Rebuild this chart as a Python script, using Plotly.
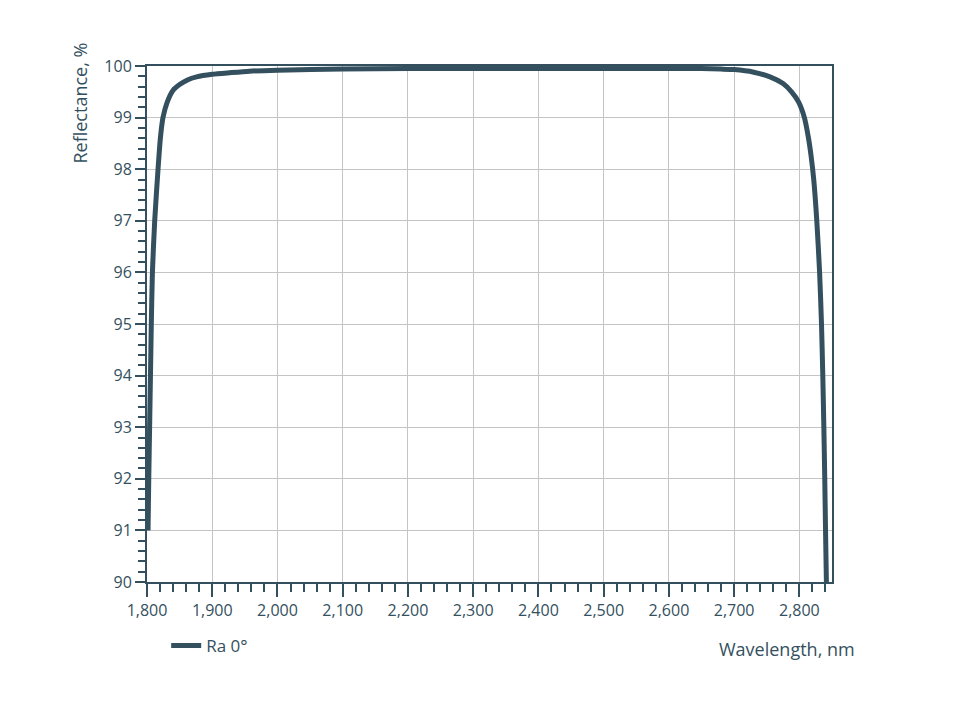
import plotly.graph_objects as go

# Reflectance curve
wavelength_nm = [
    1801.6, 1802.7, 1804.0, 1805.3, 1806.6, 1808.3, 1811.8, 1816.9, 1820.5,
    1824.5, 1831.0, 1840.0, 1850.0, 1862.0, 1876.0, 1900.0, 1927.0, 1957.0,
    2000.0, 2100.0, 2200.0, 2300.0, 2400.0, 2500.0, 2600.0, 2650.0, 2680.0,
    2700.0, 2730.0, 2755.0, 2775.0, 2788.0, 2798.5, 2807.7, 2814.0, 2818.0,
    2822.0, 2826.7, 2831.0, 2833.9, 2835.9, 2837.5, 2838.9, 2840.1, 2841.4,
]
reflectance_pct = [
    91.0, 92.0, 93.0, 94.0, 95.0, 96.0, 97.0, 98.0, 98.6,
    99.0, 99.3, 99.53, 99.64, 99.73, 99.79, 99.84, 99.87, 99.9,
    99.92, 99.94, 99.95, 99.95, 99.95, 99.95, 99.95, 99.95, 99.94,
    99.93, 99.88, 99.79, 99.66, 99.5, 99.31, 99.0, 98.6, 98.25,
    97.8, 97.0, 96.0, 95.0, 94.0, 93.0, 92.0, 91.0, 90.0,
]

x_ticks = [1800, 1900, 2000, 2100, 2200, 2300, 2400, 2500, 2600, 2700, 2800]
x_tick_labels = ["1,800", "1,900", "2,000", "2,100", "2,200", "2,300",
                 "2,400", "2,500", "2,600", "2,700", "2,800"]
y_ticks = [90, 91, 92, 93, 94, 95, 96, 97, 98, 99, 100]

INK = "#34505e"
GRID = "#c4c4c4"
FONT = "Open Sans"

fig = go.Figure()
fig.add_trace(
    go.Scatter(
        x=wavelength_nm,
        y=reflectance_pct,
        mode="lines",
        name="Ra 0°",
        line={"color": INK, "width": 5, "shape": "spline", "smoothing": 0.6},
    )
)

axis_common = {
    "showline": True,
    "linecolor": INK,
    "linewidth": 2,
    "mirror": True,
    "showgrid": True,
    "gridcolor": GRID,
    "gridwidth": 1,
    "zeroline": False,
    "ticks": "outside",
    "tickcolor": INK,
    "tickwidth": 2,
    "tickfont": {"family": FONT, "size": 16, "color": INK},
}

fig.update_xaxes(
    range=[1800, 2850],
    tickvals=x_ticks,
    ticktext=x_tick_labels,
    ticklen=13,
    minor={"dtick": 20, "ticks": "outside", "ticklen": 8, "tickcolor": INK,
           "tickwidth": 2, "showgrid": False},
    **axis_common,
)
fig.update_yaxes(
    range=[90, 100],
    tickvals=y_ticks,
    ticklen=10,
    minor={"dtick": 0.2, "ticks": "outside", "ticklen": 7, "tickcolor": INK,
           "tickwidth": 2, "showgrid": False},
    **axis_common,
)

fig.add_annotation(
    text="Reflectance, %", xref="paper", yref="paper", x=-0.098, y=1.05,
    xanchor="center", yanchor="top", textangle=-90, showarrow=False,
    font={"family": FONT, "size": 18, "color": INK},
)
fig.add_annotation(
    text="Wavelength, nm", xref="paper", yref="paper", x=1.036, y=-0.103,
    xanchor="right", yanchor="top", showarrow=False,
    font={"family": FONT, "size": 18, "color": INK},
)

fig.update_layout(
    width=964,
    height=702,
    margin={"l": 139, "r": 140, "t": 58, "b": 128},
    plot_bgcolor="#ffffff",
    paper_bgcolor="#ffffff",
    showlegend=True,
    legend={
        "x": 0.028, "y": -0.089, "xanchor": "left", "yanchor": "top",
        "font": {"family": FONT, "size": 17, "color": INK},
        "bgcolor": "rgba(0,0,0,0)",
    },
)

fig.write_html("out.html")
